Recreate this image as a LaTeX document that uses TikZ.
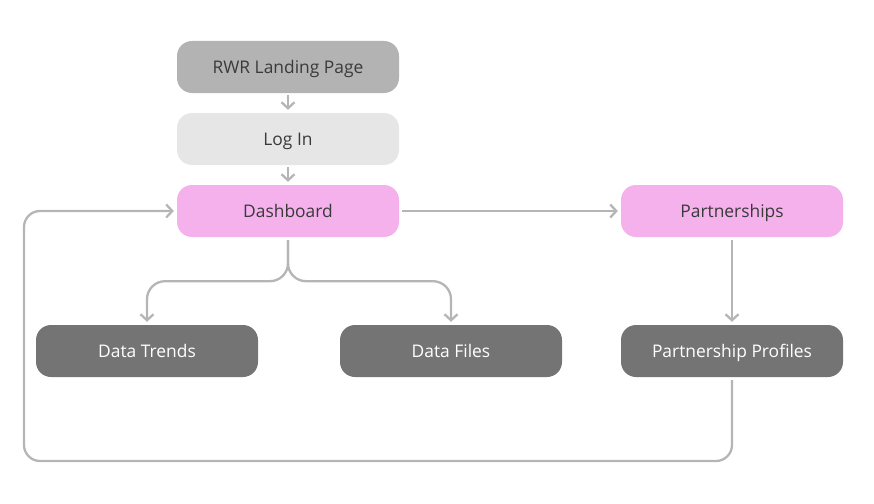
\documentclass[tikz,border=0pt]{standalone}
\usepackage{fontspec}
\setmainfont{Open Sans}
\usetikzlibrary{arrows.meta}
\definecolor{midgray}{HTML}{B3B3B3}
\definecolor{lightgray}{HTML}{E6E6E6}
\definecolor{pinkbox}{HTML}{F4B1EC}
\definecolor{darkbox}{HTML}{747474}
\definecolor{txtdark}{HTML}{3A3A3A}
\definecolor{linegray}{HTML}{B5B5B5}
\tikzset{
  box/.style={rectangle, rounded corners=15pt, minimum width=222pt, minimum height=52pt, inner sep=0pt, text height=13pt, text depth=0pt, font=\fontsize{17.4}{20}\selectfont},
  topbox/.style={box, fill=midgray, text=txtdark},
  loginbox/.style={box, fill=lightgray, text=txtdark},
  pinkb/.style={box, fill=pinkbox, text=txtdark},
  darkb/.style={box, fill=darkbox, text=white},
  conn/.style={draw=linegray, line width=2.3pt, -{Straight Barb[length=6pt,width=13pt,line width=2.3pt]}},
}
\begin{document}
\begin{tikzpicture}[x=1pt,y=-1pt]
\useasboundingbox (0,0) rectangle (874,503);
\node[topbox] (land) at (288,67) {RWR Landing Page};
\node[loginbox] (login) at (288,139) {Log In};
\node[pinkb] (dash) at (288,211) {Dashboard};
\node[pinkb] (part) at (732,211) {Partnerships};
\node[darkb] (trends) at (147,351) {Data Trends};
\node[darkb] (files) at (451,351) {Data Files};
\node[darkb] (prof) at (732,351) {Partnership Profiles};

\draw[conn] ([yshift=-2pt]land.south) -- ([yshift=3pt]login.north);
\draw[conn] ([yshift=-2pt]login.south) -- ([yshift=3pt]dash.north);
\draw[conn] ([xshift=3pt]dash.east) -- ([xshift=-3pt]part.west);
\draw[conn] ([yshift=-3pt]part.south) -- ([yshift=3pt]prof.north);
\draw[conn, rounded corners=18pt] ([yshift=-3pt]dash.south) -- ([yshift=-44pt]dash.south) -| ([yshift=3pt]trends.north);
\draw[conn, rounded corners=18pt] ([yshift=-3pt]dash.south) -- ([yshift=-44pt]dash.south) -| ([yshift=3pt]files.north);
\coordinate (loopbl) at (24,461);
\draw[conn, rounded corners=16pt] ([yshift=-3pt]prof.south) |- (loopbl) |- ([xshift=-3pt]dash.west);
\end{tikzpicture}
\end{document}
